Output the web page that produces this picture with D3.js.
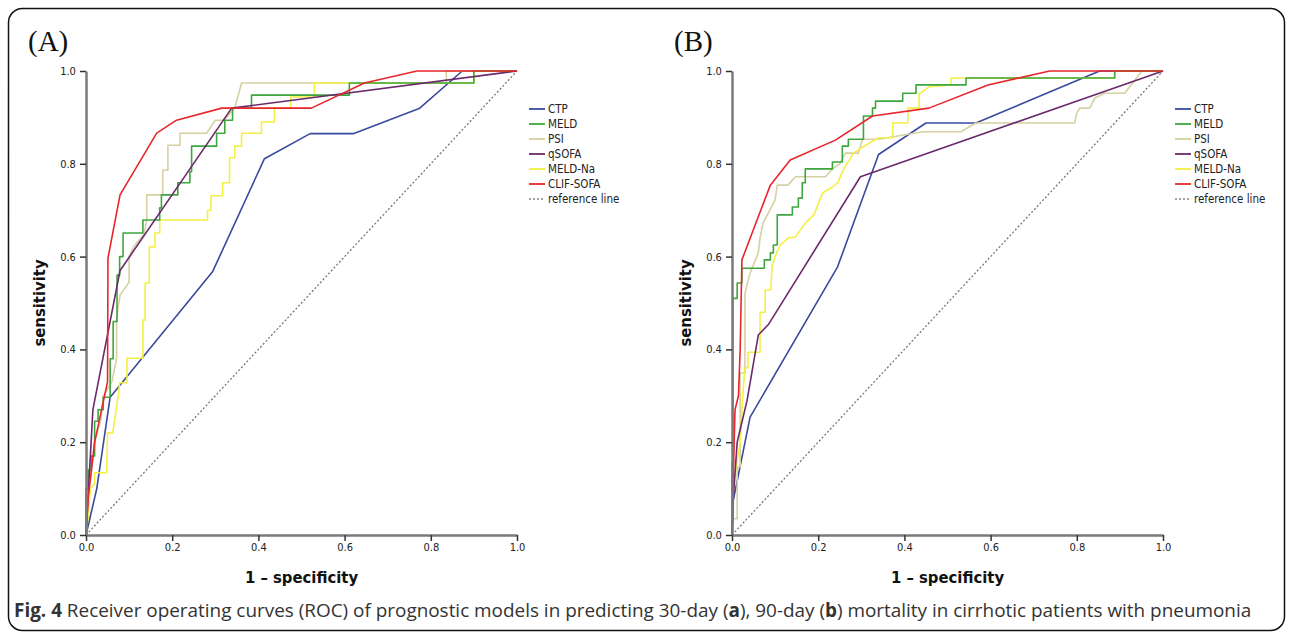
<html>
<head>
<meta charset="utf-8">
<title>ROC curves</title>
<script src="https://d3js.org/d3.v7.min.js"></script>
<style>
body { margin: 0; background: #fff; }
.tick text { font-family: "DejaVu Sans Condensed", "DejaVu Sans"; font-size: 11px; fill: #222; }
.axis path, .axis line { stroke: #7a7a7a; }
.axis path { stroke-width: 2.5; }
.axis line { stroke: #333; stroke-width: 1.5; }
.legend text { font-family: "DejaVu Sans Condensed", "DejaVu Sans"; font-size: 11.5px; fill: #222; }
.title { font-family: "DejaVu Sans Condensed", "DejaVu Sans"; font-weight: bold; font-size: 16.5px; fill: #111; }
</style>
</head>
<body>
<div id="chart"></div>
<script>
var seriesNames = ["CTP", "MELD", "PSI", "qSOFA", "MELD-Na", "CLIF-SOFA"];
var seriesColors = ["#3a4a9e", "#3ea63e", "#d6d0a2", "#6a2a6c", "#f4ef45", "#e8262c"];
var xTicks = [0, 0.2, 0.4, 0.6, 0.8, 1.0];
var yTicks = [0, 0.2, 0.4, 0.6, 0.8, 1.0];

// panel A (30-day)
var ctpA = [[0,0],[0.025,0.1],[0.056,0.297],[0.294,0.568],[0.414,0.811],[0.52,0.865],[0.62,0.865],[0.773,0.919],[0.873,1],[1,1]];
var meldA = [[0,0],[0,0.1],[0.005,0.1],[0.005,0.14],[0.012,0.14],[0.012,0.17],[0.02,0.17],[0.02,0.245],[0.028,0.245],[0.028,0.27],[0.04,0.27],[0.04,0.297],[0.056,0.297],[0.056,0.38],[0.063,0.38],[0.063,0.46],[0.072,0.46],[0.072,0.56],[0.078,0.56],[0.078,0.6],[0.086,0.6],[0.086,0.651],[0.132,0.651],[0.132,0.679],[0.171,0.679],[0.171,0.705],[0.175,0.705],[0.175,0.733],[0.213,0.733],[0.213,0.759],[0.241,0.759],[0.241,0.783],[0.245,0.783],[0.245,0.838],[0.303,0.838],[0.303,0.866],[0.322,0.866],[0.322,0.894],[0.34,0.894],[0.34,0.92],[0.384,0.92],[0.384,0.948],[0.611,0.948],[0.611,0.974],[0.9,0.974],[0.9,1],[1,1]];
var psiA = [[0,0],[0.005,0.08],[0.012,0.13],[0.02,0.2],[0.035,0.25],[0.04,0.3],[0.06,0.33],[0.071,0.38],[0.071,0.47],[0.079,0.517],[0.1,0.545],[0.1,0.6],[0.11,0.62],[0.135,0.65],[0.141,0.679],[0.141,0.733],[0.178,0.733],[0.178,0.786],[0.19,0.786],[0.19,0.84],[0.218,0.84],[0.218,0.866],[0.28,0.866],[0.3,0.894],[0.32,0.894],[0.345,0.92],[0.361,0.974],[0.836,0.974],[0.836,1],[1,1]];
var qsofaA = [[0,0],[0.016,0.27],[0.079,0.57],[0.338,0.92],[1,1]];
var meldNaA = [[0,0],[0.005,0.04],[0.01,0.1],[0.02,0.11],[0.02,0.134],[0.048,0.134],[0.05,0.22],[0.062,0.22],[0.07,0.27],[0.075,0.3],[0.078,0.328],[0.095,0.328],[0.095,0.381],[0.132,0.381],[0.132,0.463],[0.137,0.463],[0.137,0.543],[0.147,0.543],[0.147,0.621],[0.16,0.621],[0.16,0.651],[0.171,0.651],[0.171,0.679],[0.282,0.679],[0.282,0.7],[0.29,0.7],[0.29,0.731],[0.317,0.731],[0.317,0.759],[0.333,0.759],[0.333,0.813],[0.345,0.813],[0.345,0.838],[0.361,0.838],[0.361,0.866],[0.407,0.866],[0.407,0.89],[0.437,0.89],[0.437,0.92],[0.475,0.92],[0.475,0.944],[0.53,0.944],[0.53,0.974],[0.9,0.974],[0.9,1],[1,1]];
var clifA = [[0,0],[0.005,0.08],[0.02,0.2],[0.05,0.33],[0.051,0.597],[0.079,0.733],[0.164,0.866],[0.21,0.894],[0.315,0.92],[0.523,0.92],[0.646,0.974],[0.768,1],[1,1]];

// panel B (90-day)
var ctpB = [[0,0],[0.003,0.075],[0.042,0.254],[0.245,0.578],[0.34,0.82],[0.45,0.888],[0.566,0.888],[0.853,1],[1,1]];
var meldB = [[0,0],[0,0.155],[0.002,0.155],[0.002,0.51],[0.012,0.51],[0.012,0.543],[0.023,0.543],[0.023,0.575],[0.075,0.575],[0.075,0.593],[0.089,0.593],[0.089,0.608],[0.096,0.608],[0.096,0.625],[0.105,0.625],[0.105,0.69],[0.14,0.69],[0.14,0.707],[0.154,0.707],[0.154,0.726],[0.163,0.726],[0.163,0.759],[0.17,0.759],[0.17,0.789],[0.233,0.789],[0.233,0.804],[0.256,0.804],[0.256,0.838],[0.27,0.838],[0.27,0.853],[0.305,0.853],[0.305,0.903],[0.326,0.903],[0.326,0.92],[0.333,0.92],[0.333,0.935],[0.396,0.935],[0.396,0.952],[0.427,0.952],[0.427,0.97],[0.543,0.97],[0.543,0.985],[0.888,0.985],[0.888,1],[1,1]];
var psiB = [[0,0],[0.002,0.035],[0.012,0.035],[0.012,0.147],[0.019,0.147],[0.019,0.349],[0.03,0.349],[0.03,0.52],[0.035,0.54],[0.042,0.565],[0.061,0.608],[0.065,0.64],[0.072,0.672],[0.1,0.722],[0.105,0.754],[0.13,0.754],[0.147,0.772],[0.217,0.772],[0.233,0.789],[0.25,0.8],[0.263,0.823],[0.293,0.823],[0.303,0.853],[0.34,0.853],[0.443,0.869],[0.531,0.869],[0.566,0.888],[0.795,0.888],[0.8,0.91],[0.807,0.92],[0.83,0.92],[0.842,0.942],[0.865,0.952],[0.911,0.952],[0.951,1],[1,1]];
var qsofaB = [[0,0],[0.003,0.08],[0.012,0.2],[0.035,0.29],[0.061,0.431],[0.084,0.453],[0.298,0.772],[1,1]];
var meldNaB = [[0,0],[0.002,0.09],[0.01,0.15],[0.019,0.198],[0.025,0.3],[0.03,0.36],[0.037,0.36],[0.037,0.394],[0.065,0.394],[0.065,0.48],[0.077,0.48],[0.077,0.528],[0.09,0.528],[0.093,0.578],[0.1,0.6],[0.112,0.625],[0.13,0.64],[0.147,0.642],[0.17,0.672],[0.19,0.69],[0.21,0.737],[0.233,0.75],[0.245,0.759],[0.26,0.79],[0.282,0.823],[0.303,0.836],[0.34,0.856],[0.373,0.856],[0.373,0.888],[0.408,0.888],[0.408,0.92],[0.434,0.92],[0.434,0.95],[0.457,0.966],[0.508,0.97],[0.508,0.985],[0.888,0.985],[0.888,1],[1,1]];
var clifB = [[0,0],[0.005,0.2],[0.007,0.27],[0.015,0.3],[0.019,0.4],[0.023,0.593],[0.089,0.754],[0.135,0.808],[0.24,0.851],[0.326,0.903],[0.457,0.92],[0.594,0.97],[0.737,1],[1,1]];

var panels = [
  {label: "(A)", left: 86, series: [ctpA, meldA, psiA, qsofaA, meldNaA, clifA]},
  {label: "(B)", left: 732, series: [ctpB, meldB, psiB, qsofaB, meldNaB, clifB]}
];

var svg = d3.select("#chart").append("svg")
    .attr("width", 1292)
    .attr("height", 632);

// outer frame
svg.append("rect")
    .attr("x", 8.5).attr("y", 8.5)
    .attr("width", 1276).attr("height", 622)
    .attr("rx", 14)
    .attr("fill", "none")
    .attr("stroke", "#111")
    .attr("stroke-width", 1.5);

var plotW = 431, plotTop = 71, plotBottom = 535;

// draw order: reference, then series so red ends on top
var drawOrder = [0, 2, 4, 1, 3, 5];

panels.forEach(function(p) {
  var x = d3.scaleLinear().domain([0, 1]).range([p.left, p.left + plotW]);
  var y = d3.scaleLinear().domain([0, 1]).range([plotBottom, plotTop]);
  var line = d3.line()
      .x(function(d) { return x(d[0]); })
      .y(function(d) { return y(d[1]); });

  svg.append("text")
      .attr("x", p.left - 58)
      .attr("y", 51)
      .style("font-family", "'Liberation Serif', 'DejaVu Serif', serif")
      .style("font-size", "29px")
      .attr("fill", "#111")
      .text(p.label);

  // reference line
  svg.append("path")
      .datum([[0, 0], [1, 1]])
      .attr("d", line)
      .attr("fill", "none")
      .attr("stroke", "#777")
      .attr("stroke-width", 1.3)
      .attr("stroke-dasharray", "2,2");

  drawOrder.forEach(function(i) {
    svg.append("path")
        .datum(p.series[i])
        .attr("d", line)
        .attr("fill", "none")
        .attr("stroke", seriesColors[i])
        .attr("stroke-width", 1.6)
        .attr("stroke-linejoin", "round");
  });

  // axes
  svg.append("g")
      .attr("class", "axis")
      .attr("transform", "translate(0," + plotBottom + ")")
      .call(d3.axisBottom(x).tickValues(xTicks).tickFormat(d3.format(".1f")).tickSize(6).tickSizeOuter(0))
      .selectAll("text").attr("dy", "0.6em");

  svg.append("g")
      .attr("class", "axis")
      .attr("transform", "translate(" + p.left + ",0)")
      .call(d3.axisLeft(y).tickValues(yTicks).tickFormat(d3.format(".1f")).tickSize(6).tickSizeOuter(0))
      .selectAll("text").attr("dx", "-0.1em");

  svg.append("text")
      .attr("class", "title")
      .attr("x", x(0.5))
      .attr("y", 583)
      .attr("text-anchor", "middle")
      .text("1 \u2013 specificity");

  svg.append("text")
      .attr("class", "title")
      .attr("transform", "translate(" + (p.left - 41) + "," + y(0.5) + ") rotate(-90)")
      .attr("text-anchor", "middle")
      .text("sensitivity");

  // legend
  var lg = svg.append("g")
      .attr("class", "legend")
      .attr("transform", "translate(" + (p.left + plotW + 12) + ",109)");
  seriesNames.forEach(function(name, i) {
    lg.append("line")
        .attr("x1", 0).attr("x2", 16)
        .attr("y1", i * 15).attr("y2", i * 15)
        .attr("stroke", seriesColors[i])
        .attr("stroke-width", 1.8);
    lg.append("text")
        .attr("x", 19).attr("y", i * 15 + 4)
        .text(name);
  });
  lg.append("line")
      .attr("x1", 0).attr("x2", 16)
      .attr("y1", 90).attr("y2", 90)
      .attr("stroke", "#888")
      .attr("stroke-width", 1.5)
      .attr("stroke-dasharray", "2,2");
  lg.append("text")
      .attr("x", 19).attr("y", 94)
      .text("reference line");
});

// caption
var cap = svg.append("text")
    .attr("x", 14)
    .attr("y", 617)
    .style("font-family", "'Open Sans', 'Noto Sans', sans-serif")
    .style("font-size", "18px")
    .attr("fill", "#333");
cap.append("tspan").style("font-weight", "bold").text("Fig. 4");
cap.append("tspan").text(" Receiver operating curves (ROC) of prognostic models in predicting 30-day (");
cap.append("tspan").style("font-weight", "bold").text("a");
cap.append("tspan").text("), 90-day (");
cap.append("tspan").style("font-weight", "bold").text("b");
cap.append("tspan").text(") mortality in cirrhotic patients with pneumonia");
var capW = cap.node().getComputedTextLength();
cap.style("font-size", (18 * 1238 / capW) + "px");
</script>
</body>
</html>
